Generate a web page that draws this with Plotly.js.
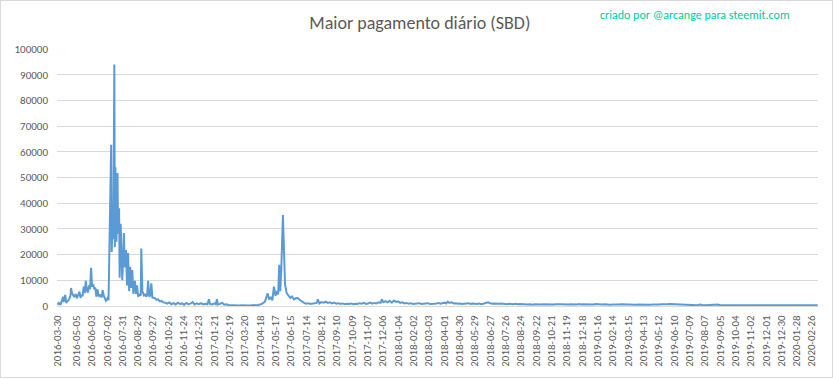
<!DOCTYPE html>
<html>
<head>
<meta charset="utf-8">
<script src="https://cdn.plot.ly/plotly-3.0.1.min.js"></script>
<style>
html,body{margin:0;padding:0;background:#fff;}
#wrap{position:relative;width:833px;height:379px;}
#chart{position:absolute;left:0;top:0;width:833px;height:379px;}
#frame{position:absolute;left:0;top:0;width:833px;height:378px;box-sizing:border-box;border:1px solid #d9d9d9;pointer-events:none;}
</style>
</head>
<body>
<div id="wrap"><div id="chart"></div><div id="frame"></div></div>
<script>
const chartTitle = 'Maior pagamento diário (SBD)';
const creditText = 'criado por @arcange para steemit.com';

const tickLabels = ['2016-03-30','2016-05-05','2016-06-03','2016-07-02','2016-07-31','2016-08-29','2016-09-27','2016-10-26','2016-11-24','2016-12-23','2017-01-21','2017-02-19','2017-03-20','2017-04-18','2017-05-17','2017-06-15','2017-07-14','2017-08-12','2017-09-10','2017-10-09','2017-11-07','2017-12-06','2018-01-04','2018-02-02','2018-03-03','2018-04-01','2018-04-30','2018-05-29','2018-06-27','2018-07-26','2018-08-24','2018-09-22','2018-10-21','2018-11-19','2018-12-18','2019-01-16','2019-02-14','2019-03-15','2019-04-13','2019-05-12','2019-06-10','2019-07-09','2019-08-07','2019-09-05','2019-10-04','2019-11-02','2019-12-01','2019-12-30','2020-01-28','2020-02-26'];

// 2016 launch period
const dates2016 = ['2016-03-30','2016-04-02','2016-04-05','2016-04-07','2016-04-10','2016-04-11','2016-04-14','2016-04-16','2016-04-18','2016-04-21','2016-04-24','2016-04-25','2016-04-27','2016-04-29','2016-05-01','2016-05-04','2016-05-06','2016-05-09','2016-05-11','2016-05-13','2016-05-15','2016-05-17','2016-05-19','2016-05-21','2016-05-23','2016-05-25','2016-05-27','2016-05-29','2016-05-31','2016-06-02','2016-06-04','2016-06-06','2016-06-08','2016-06-10','2016-06-12','2016-06-14','2016-06-16','2016-06-18','2016-06-20','2016-06-22','2016-06-24','2016-06-26','2016-06-28','2016-06-30','2016-07-02','2016-07-04','2016-07-05','2016-07-07','2016-07-08','2016-07-10','2016-07-11','2016-07-13','2016-07-14','2016-07-16','2016-07-17','2016-07-18','2016-07-20','2016-07-22','2016-07-23','2016-07-25','2016-07-26','2016-07-28','2016-07-30','2016-07-31','2016-08-02','2016-08-03','2016-08-05','2016-08-07','2016-08-09','2016-08-11','2016-08-13','2016-08-15','2016-08-17','2016-08-19','2016-08-21','2016-08-24','2016-08-26','2016-08-28','2016-08-30','2016-09-02','2016-09-04','2016-09-05','2016-09-07','2016-09-10','2016-09-12','2016-09-14','2016-09-16','2016-09-18','2016-09-20','2016-09-22','2016-09-24','2016-09-26','2016-10-01','2016-10-04','2016-10-07','2016-10-10','2016-10-13','2016-10-16','2016-10-20'];
const values2016 = [500,1200,400,2000,3600,1500,4300,1200,1700,2500,4000,7000,5000,4300,3500,4700,3000,4500,5600,3200,4300,3800,7500,5000,9800,6000,5200,8000,6500,14900,7500,8500,6500,7200,3600,6500,4200,3600,4500,3300,6200,4000,3000,2000,2500,3600,2200,20600,38000,62700,21000,36000,26000,94000,23000,54000,25000,51700,28000,38000,11000,32000,14000,10000,20000,28400,15000,21800,8000,20600,5800,15300,7000,14000,4700,9800,4700,8000,3600,4700,4000,22400,5800,4200,4700,3600,4200,9800,3900,4000,8800,3300,3000,2400,2600,1800,2000,1500,1300];

// late 2016 – mid 2017
const dates2017 = ['2016-10-24','2016-10-28','2016-11-01','2016-11-05','2016-11-09','2016-11-13','2016-11-17','2016-11-21','2016-11-25','2016-11-29','2016-12-03','2016-12-07','2016-12-11','2016-12-15','2016-12-19','2016-12-23','2016-12-27','2016-12-31','2017-01-04','2017-01-08','2017-01-11','2017-01-13','2017-01-17','2017-01-21','2017-01-24','2017-01-26','2017-01-28','2017-02-01','2017-02-05','2017-02-09','2017-02-13','2017-02-17','2017-02-22','2017-02-27','2017-03-04','2017-03-09','2017-03-14','2017-03-19','2017-03-24','2017-03-29','2017-04-03','2017-04-08','2017-04-13','2017-04-18','2017-04-22','2017-04-27','2017-05-02','2017-05-05','2017-05-08','2017-05-11','2017-05-14','2017-05-17','2017-05-20','2017-05-22','2017-05-24','2017-05-26','2017-05-28','2017-05-31','2017-06-02','2017-06-04','2017-06-07','2017-06-10','2017-06-14','2017-06-17','2017-06-21','2017-06-25','2017-06-29','2017-07-03','2017-07-06','2017-07-10','2017-07-14','2017-07-18','2017-07-22','2017-07-26','2017-07-30','2017-08-03','2017-08-05','2017-08-08','2017-08-12','2017-08-16','2017-08-20','2017-08-24','2017-08-28','2017-09-01','2017-09-05','2017-09-09','2017-09-13','2017-09-17','2017-09-21','2017-09-25','2017-09-29','2017-10-03','2017-10-07','2017-10-11','2017-10-15','2017-10-19','2017-10-23','2017-10-27','2017-10-31','2017-11-04','2017-11-08','2017-11-12','2017-11-16','2017-11-20','2017-11-24','2017-11-28','2017-12-02','2017-12-04','2017-12-07','2017-12-11','2017-12-15','2017-12-19','2017-12-23','2017-12-27','2017-12-31'];
const values2017 = [900,1400,700,1100,600,1300,800,1000,500,1200,700,900,1500,600,1000,700,1100,600,900,700,2600,800,600,1000,700,2600,600,800,1300,500,700,400,300,200,350,150,300,200,250,150,300,250,400,600,900,1700,4900,2500,3500,2200,7500,4000,5800,4500,16000,5800,15000,35400,15000,8400,5000,4300,3100,3700,2600,3100,3000,2200,1700,1200,900,1100,800,1000,900,1200,2600,1000,1500,1300,1700,1200,1400,1000,1300,900,1100,800,1000,700,900,800,1000,700,900,800,1100,900,1200,800,1000,1300,900,1200,1000,1400,1200,2600,1500,1900,1400,2000,1300,2100,1600];

// 2018
const dates2018 = ['2018-01-04','2018-01-08','2018-01-12','2018-01-16','2018-01-20','2018-01-24','2018-01-28','2018-02-01','2018-02-05','2018-02-09','2018-02-13','2018-02-17','2018-02-21','2018-02-25','2018-03-01','2018-03-05','2018-03-09','2018-03-13','2018-03-17','2018-03-21','2018-03-25','2018-03-29','2018-04-02','2018-04-05','2018-04-08','2018-04-11','2018-04-15','2018-04-19','2018-04-23','2018-04-27','2018-05-01','2018-05-05','2018-05-09','2018-05-13','2018-05-17','2018-05-21','2018-05-25','2018-05-29','2018-06-02','2018-06-06','2018-06-10','2018-06-14','2018-06-18','2018-06-23','2018-06-27','2018-07-01','2018-07-05','2018-07-09','2018-07-13','2018-07-17','2018-07-21','2018-07-25','2018-07-29','2018-08-02','2018-08-06','2018-08-10','2018-08-14','2018-08-18','2018-08-22','2018-08-26','2018-08-30','2018-09-03','2018-09-07','2018-09-11','2018-09-15','2018-09-19','2018-09-23','2018-09-27','2018-10-01','2018-10-05','2018-10-09','2018-10-13','2018-10-17','2018-10-21','2018-10-25','2018-10-29','2018-11-02','2018-11-06','2018-11-10','2018-11-14','2018-11-18','2018-11-22','2018-11-26','2018-11-30','2018-12-04','2018-12-08','2018-12-12','2018-12-16','2018-12-20','2018-12-24','2018-12-28'];
const values2018 = [1800,1200,1400,1000,1200,900,1100,800,1000,900,1100,800,1000,900,1100,800,1000,900,1000,1200,900,1100,1300,1000,1700,1200,1400,1000,1100,900,1000,800,1000,900,1100,800,1000,900,800,1000,700,900,1000,1400,1100,900,1000,800,900,1000,800,900,700,900,800,700,900,700,800,700,600,700,600,700,500,700,600,650,550,650,600,700,600,650,550,700,600,650,700,600,650,550,650,600,700,550,800,600,700,650,750];

// 2019 – 2020
const dates2019 = ['2019-01-01','2019-01-05','2019-01-09','2019-01-13','2019-01-17','2019-01-21','2019-01-25','2019-01-29','2019-02-02','2019-02-06','2019-02-10','2019-02-14','2019-02-18','2019-02-22','2019-02-26','2019-03-02','2019-03-06','2019-03-10','2019-03-14','2019-03-18','2019-03-22','2019-03-26','2019-03-30','2019-04-03','2019-04-07','2019-04-11','2019-04-15','2019-04-19','2019-04-23','2019-04-27','2019-05-01','2019-05-05','2019-05-09','2019-05-13','2019-05-17','2019-05-21','2019-05-25','2019-05-29','2019-06-02','2019-06-06','2019-06-10','2019-06-14','2019-06-18','2019-06-22','2019-06-26','2019-06-30','2019-07-06','2019-07-12','2019-07-18','2019-07-24','2019-07-30','2019-08-03','2019-08-09','2019-08-15','2019-08-21','2019-08-27','2019-09-01','2019-09-05','2019-09-11','2019-09-17','2019-09-23','2019-09-29','2019-10-05','2019-10-11','2019-10-17','2019-10-23','2019-10-29','2019-11-04','2019-11-10','2019-11-16','2019-11-22','2019-11-28','2019-12-04','2019-12-10','2019-12-16','2019-12-22','2019-12-28','2020-01-03','2020-01-09','2020-01-15','2020-01-21','2020-01-27','2020-02-02','2020-02-08','2020-02-14','2020-02-20','2020-02-26','2020-03-03','2020-03-08'];
const values2019 = [600,700,600,800,650,700,600,650,550,600,500,550,500,600,550,650,600,700,600,650,550,600,500,550,500,550,450,500,450,500,550,500,600,550,650,600,700,650,750,700,800,700,650,550,500,400,350,300,350,300,600,300,250,300,250,300,600,300,250,300,250,300,250,300,250,280,250,300,250,280,250,300,250,280,250,300,250,280,250,300,250,280,250,300,250,280,250,300,280];

const dates = dates2016.concat(dates2017, dates2018, dates2019);
const payout = values2016.concat(values2017, values2018, values2019);

const FONT = 'Carlito, Lato, sans-serif';

const trace = {
  type: 'scatter', mode: 'lines',
  x: dates, y: payout,
  line: {color: '#5b9bd5', width: 2},
  hoverinfo: 'x+y'
};

const layout = {
  width: 833, height: 379,
  margin: {l: 57, r: 15, t: 49, b: 73},
  paper_bgcolor: '#ffffff', plot_bgcolor: '#ffffff',
  showlegend: false,
  font: {family: FONT, color: '#595959'},
  title: {
    text: chartTitle,
    xref: 'container', yref: 'container',
    x: 0.504, xanchor: 'center', y: 0.939, yanchor: 'middle',
    font: {family: FONT, size: 18, color: '#595959'}
  },
  xaxis: {
    type: 'date',
    range: ['2016-03-29 12:00', '2020-03-08 12:00'],
    tickmode: 'array', tickvals: tickLabels, ticktext: tickLabels,
    tickangle: -90,
    tickfont: {family: FONT, size: 11, color: '#595959'},
    ticks: '', ticklabelstandoff: 4,
    showgrid: false, zeroline: false,
    showline: true, linecolor: '#d9d9d9', linewidth: 1
  },
  yaxis: {
    range: [0, 100000], tick0: 0, dtick: 10000,
    tickformat: 'd',
    tickfont: {family: FONT, size: 11, color: '#595959'},
    ticks: '', ticklabelstandoff: 8,
    showgrid: true, gridcolor: '#d9d9d9', gridwidth: 1,
    zeroline: false, showline: false
  },
  annotations: [{
    text: creditText, showarrow: false,
    xref: 'paper', yref: 'paper', x: 0.966, y: 1.132,
    xanchor: 'right', yanchor: 'middle',
    font: {family: FONT, size: 12, color: '#00c99a'}
  }]
};

Plotly.newPlot('chart', [trace], layout, {displayModeBar: false, staticPlot: true});
</script>
</body>
</html>
